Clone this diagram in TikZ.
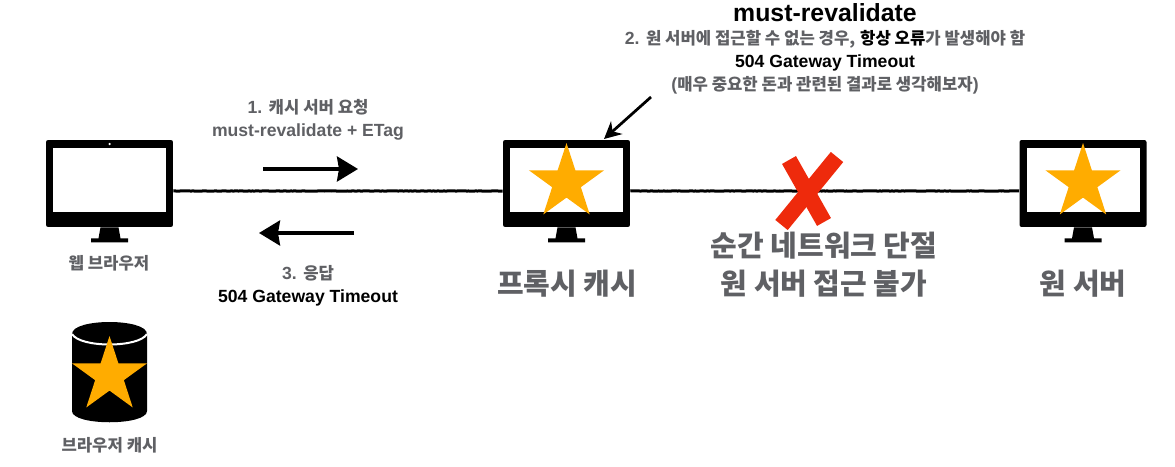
\documentclass[tikz,border=0pt]{standalone}
\usepackage{fontspec}
\setmainfont{Liberation Sans}[Scale=1.055]
\newfontfamily\krfont{Noto Sans CJK KR}
\newcommand{\kr}[1]{{\krfont #1}}
\usetikzlibrary{arrows.meta,shapes.geometric,decorations.pathmorphing}
\definecolor{labelgray}{HTML}{5F6064}
\definecolor{staryellow}{HTML}{FFAC00}
\definecolor{crossred}{HTML}{EE2A0C}
\begin{document}
\begin{tikzpicture}[
  x=0.02cm, y=-0.02cm,
  monitor/.style={fill=black, rounded corners=1.2pt, minimum width=2.54cm, minimum height=1.74cm, inner sep=0pt},
  screenbox/.style={fill=white, minimum width=2.26cm, minimum height=1.28cm, inner sep=0pt},
  bigstar/.style={star, star points=5, star point ratio=2.618, fill=staryellow, minimum size=1.58cm, inner sep=0pt},
  etiqueta/.style={align=center, text=labelgray, font=\bfseries\fontsize{9.5}{13}\selectfont},
  grande/.style={align=center, text=labelgray, font=\bfseries\fontsize{16.5}{21.5}\selectfont},
  enlace/.style={line width=0.06cm, decorate, decoration={random steps, segment length=1pt, amplitude=0.12pt}},
  flecha/.style={line width=0.07cm, -{Stealth[length=0.42cm, width=0.5cm, inset=0.04cm]}},
  aspa/.style={crossred, line width=0.32cm}
]
  \useasboundingbox (0,0) rectangle (1175,466);
  \node[monitor] (browser) at (109.5,183.5) {};
  \node[monitor] (proxy) at (566.5,183.5) {};
  \node[monitor] (origin) at (1083,183.5) {};
  \foreach \m in {browser,proxy,origin} {
    \node[screenbox] (\m-screen) at ([yshift=0.07cm]\m.center) {};
    \fill[shift={(\m.south)}] (-9,0) -- (9,0) -- (11,11) -- (18.5,11) -- (18.5,15)
      -- (-18.5,15) -- (-18.5,11) -- (-11,11) -- cycle;
  }
  \node[circle, fill=white, minimum size=0.05cm, inner sep=0pt] (camera) at (109.5,144) {};
  \draw[enlace] ([yshift=-0.15cm]browser.east) -- ([yshift=-0.15cm]proxy.west);
  \draw[enlace] ([yshift=-0.15cm]proxy.east) -- ([yshift=-0.15cm]origin.west);
  \node[bigstar] (proxystar) at (566.5,182.5) {};
  \node[bigstar] (originstar) at (1083,182.5) {};
  % cache
  \coordinate (cacheleft) at (72,334);
  \coordinate (cacheright) at (147,334);
  \fill (cacheleft) .. controls (72,318) and (147,318) .. (cacheright) -- (147,411)
    .. controls (147,426) and (72,426) .. (72,411) -- cycle;
  \draw[white, line width=0.04cm] (cacheleft) .. controls (80,348) and (139,348) .. (cacheright);
  \node[bigstar] (cachestar) at (109.5,375.5) {};
  % cross
  \draw[aspa] (789,160) -- (824,222);
  \draw[aspa] (837,157) -- (781.5,225);
  % arrows
  \coordinate (reqstart) at (263,169);
  \coordinate (reqend) at (358,169);
  \coordinate (respstart) at (354,233);
  \coordinate (respend) at (259,233);
  \coordinate (notestart) at (651,97);
  \coordinate (noteend) at (604,139);
  \draw[flecha] (reqstart) -- (reqend);
  \draw[flecha] (respstart) -- (respend);
  \draw[line width=0.055cm, -{Stealth[length=0.34cm, width=0.34cm]}] (notestart) -- (noteend);
  % labels
  \node[etiqueta] (reqlabel) at (308,120) {1. \kr{캐시 서버 요청}\\must-revalidate + ETag};
  \node[etiqueta] (resplabel) at (308,286) {3. \kr{응답}\\\textcolor{black}{504 Gateway Timeout}};
  \node[etiqueta] (browserlabel) at (109,263) {\kr{웹 브라우저}};
  \node[etiqueta] (cachelabel) at (109.5,445) {\kr{브라우저 캐시}};
  \node[font=\bfseries\fontsize{13.4}{16}\selectfont] (title) at (825,13) {must-revalidate};
  \node[etiqueta] (notelabel) at (825,62) {2. \kr{원 서버에 접근할 수 없는 경우,} \textcolor{black}{\kr{항상 오류}}\kr{가 발생해야 함}\\\textcolor{black}{504 Gateway Timeout}\\(\kr{매우 중요한 돈과 관련된 결과로 생각해보자})};
  \node[grande] (proxylabel) at (567,284) {\kr{프록시 캐시}};
  \node[grande] (faillabel) at (824,265) {\kr{순간 네트워크 단절}\\\kr{원 서버 접근 불가}};
  \node[grande] (originlabel) at (1083,284) {\kr{원 서버}};
\end{tikzpicture}
\end{document}
